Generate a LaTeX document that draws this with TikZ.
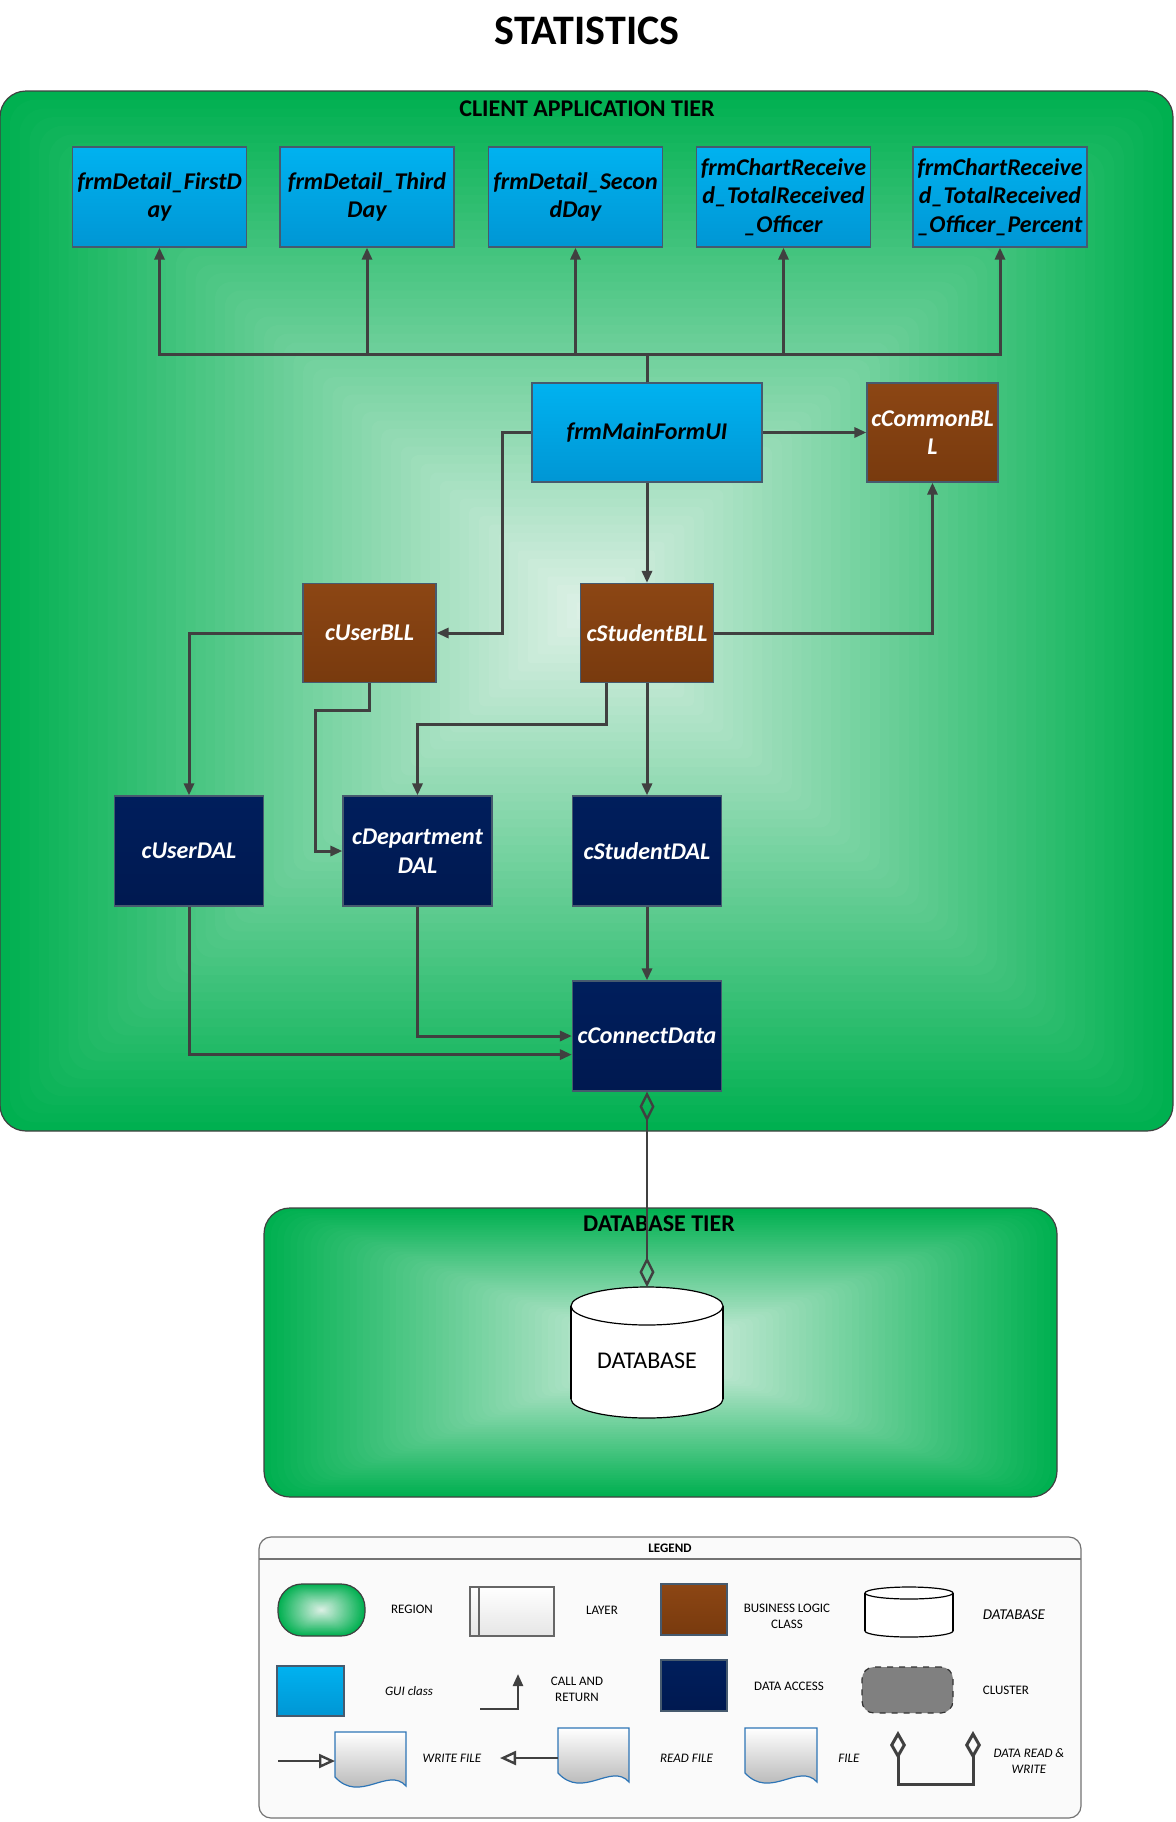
\documentclass[tikz,border=0pt]{standalone}
\usepackage{fontspec}
\setmainfont{Carlito}
\usetikzlibrary{arrows.meta,calc,positioning}

\definecolor{tiergreen}{RGB}{0,176,80}
\definecolor{tierlight}{RGB}{224,241,232}
\definecolor{guitop}{RGB}{0,178,240}
\definecolor{guibot}{RGB}{0,150,212}
\definecolor{blltop}{RGB}{140,70,20}
\definecolor{bllbot}{RGB}{120,58,14}
\definecolor{daltop}{RGB}{0,30,92}
\definecolor{dalbot}{RGB}{0,25,80}
\definecolor{linegray}{RGB}{64,64,64}
\definecolor{boxedge}{RGB}{70,90,110}
\definecolor{docblue}{RGB}{46,117,182}

% region with a rectangular gradient: x1 y1 x2 y2 radius
\newcommand\tierfill[5]{%
  \foreach \i in {0,...,59}{
    \pgfmathsetmacro\tiers{1-\i/60}
    \pgfmathsetmacro\tierp{100-100*\i/60}
    \fill[tiergreen!\tierp!tierlight, rounded corners={#5*0.5pt*\tiers}]
      ({(#1+#3)/2-(#3-#1)/2*\tiers},{(#2+#4)/2-(#4-#2)/2*\tiers}) rectangle
      ({(#1+#3)/2+(#3-#1)/2*\tiers},{(#2+#4)/2+(#4-#2)/2*\tiers});
  }
  \draw[black!75, line width=0.6pt, rounded corners={#5*0.5pt}] (#1,#2) rectangle (#3,#4);}
% file symbol: x1 y1 x2 y2
\newcommand\docshape[4]{%
  \shade[top color=white, bottom color=black!35, draw=docblue, line width=0.6pt]
    (#1,#2) -- (#3,#2) -- (#3,{#4-6})
    .. controls ({#3-0.25*(#3-#1)},{#4-26}) and ({#1+0.35*(#3-#1)},{#4+12}) .. (#1,{#4-15}) -- cycle;}
% database drum: cx top bottom rx ry
\newcommand\dbshape[5]{%
  \filldraw[fill=white, draw=black, line width=0.6pt] (#1,{#3-#5}) ellipse [x radius=#4, y radius=#5];
  \fill[white] ({#1-#4},{#2+#5}) rectangle ({#1+#4},{#3-#5});
  \draw[line width=0.6pt] ({#1-#4},{#2+#5}) -- ({#1-#4},{#3-#5}) ({#1+#4},{#2+#5}) -- ({#1+#4},{#3-#5});
  \filldraw[fill=white, draw=black, line width=0.6pt] (#1,{#2+#5}) ellipse [x radius=#4, y radius=#5];}

\begin{document}
\begin{tikzpicture}[
  x=0.5pt, y=-0.5pt,
  box/.style={draw=boxedge, line width=0.6pt, inner sep=0pt, align=center,
    font=\fontsize{12}{14.3}\selectfont\bfseries\itshape},
  gui/.style={box, top color=guitop, bottom color=guibot, text=black},
  bll/.style={box, top color=blltop, bottom color=bllbot, text=white},
  dal/.style={box, top color=daltop, bottom color=dalbot, text=white},
  detail/.style={gui, minimum width=87pt, minimum height=50pt},
  logic/.style={bll, minimum width=66.5pt, minimum height=49.5pt},
  access/.style={dal, minimum width=74.5pt, minimum height=55pt},
  tiertext/.style={font=\fontsize{12}{14}\selectfont\bfseries},
  legtext/.style={font=\fontsize{6.5}{8}\selectfont, align=center},
  conn/.style={draw=linegray, line width=1.5pt, -{Triangle[length=6pt,width=5pt]}},
  dbconn/.style={draw=linegray, line width=1.2pt,
    {Diamond[open,length=15pt,width=7.5pt]}-{Diamond[open,length=15pt,width=7.5pt]}}
]
\useasboundingbox (0,0) rectangle (1175,1822);

% regions
\tierfill{0}{91}{1173}{1131}{26}
\tierfill{264}{1208}{1057}{1497}{26}

\node[font=\fontsize{21}{25}\selectfont\bfseries] (title) at (587,31) {STATISTICS};
\node[tiertext] (clienttier) at (587,109) {CLIENT APPLICATION TIER};
\node[tiertext] (dbtier) at (659,1224) {DATABASE TIER};

% GUI layer
\node[detail] (firstday) at (159.5,197) {frmDetail\_FirstD\\ay};
\node[detail] (thirdday) at (367,197) {frmDetail\_Third\\Day};
\node[detail] (secondday) at (575.5,197) {frmDetail\_Secon\\dDay};
\node[detail] (chartofficer) at (783.5,197) {frmChartReceive\\d\_TotalReceived\\\_Officer};
\node[detail] (chartpercent) at (1000,197) {frmChartReceive\\d\_TotalReceived\\\_Officer\_Percent};
\node[gui, minimum width=115pt, minimum height=49.5pt] (mainform) at (647,432.5) {frmMainFormUI};

% business logic
\node[logic, minimum width=65.5pt] (commonbll) at (932.5,432.5) {cCommonBL\\L};
\node[logic] (userbll) at (369.5,633) {cUserBLL};
\node[logic] (studentbll) at (647,633) {cStudentBLL};

% data access
\node[access] (userdal) at (189,851) {cUserDAL};
\node[access] (departmentdal) at (417.5,851) {cDepartment\\DAL};
\node[access] (studentdal) at (647,851) {cStudentDAL};
\node[access] (connectdata) at (647,1036) {cConnectData};

% calls
\foreach \n in {firstday,thirdday,secondday,chartofficer,chartpercent}
  \draw[conn] (mainform.north) -- ++(0,-28) -| (\n.south);
\draw[conn] (mainform) -- (commonbll);
\draw[conn] (mainform.west) -- ++(-29,0) |- (userbll.east);
\draw[conn] (mainform.south) -- (studentbll.north);
\draw[conn] (studentbll.east) -| (commonbll.south);
\draw[conn] (userbll.west) -| (userdal.north);
\draw[conn] (userbll.south) |- ++(-54,27) |- (departmentdal.west);
\draw[conn] ($(studentbll.south)+(-41,0)$) -- ++(0,41) -| (departmentdal.north);
\draw[conn] (studentbll) -- (studentdal);
\draw[conn] (studentdal) -- (connectdata);
\draw[conn] (departmentdal.south) |- (connectdata.west);
\draw[conn] (userdal.south) |- ($(connectdata.west)+(0,18.6)$);

% database
\dbshape{647}{1287}{1418}{76}{19}
\node[font=\fontsize{12}{14}\selectfont] (database) at (647,1361) {DATABASE};
\coordinate (dbtop) at (647,1287);
\draw[dbconn] (connectdata.south) -- (dbtop);

% legend
\filldraw[fill=black!2, draw=black!55, line width=0.6pt, rounded corners=6pt] (259,1537) rectangle (1081,1818);
\draw[black!55, line width=0.6pt] (259,1559) -- (1081,1559);
\node[legtext, font=\fontsize{6.5}{8}\selectfont\bfseries] (legend) at (670,1548) {LEGEND};

\tierfill{278}{1584}{365}{1636}{24}
\node[legtext] (legregion) at (412,1609) {REGION};
\shade[top color=white, bottom color=black!10, draw=black!60, line width=0.6pt] (470,1587) rectangle (554,1636);
\draw[black!60, line width=0.6pt] (479,1587) -- (479,1636);
\node[legtext] (leglayer) at (602,1610) {LAYER};
\node[bll, minimum width=33pt, minimum height=25.5pt] (legbll) at (694,1609.5) {};
\node[legtext] (legbllt) at (787,1616.5) {BUSINESS LOGIC\\CLASS};
\dbshape{909}{1587}{1637}{44}{6}
\node[legtext, font=\fontsize{7.5}{9}\selectfont\itshape] (legdb) at (1014,1615) {DATABASE};

\node[gui, minimum width=33.5pt, minimum height=25pt] (leggui) at (310.5,1691) {};
\node[legtext, font=\fontsize{6.5}{8}\selectfont\itshape] (legguit) at (409,1691) {GUI class};
\coordinate (callfrom) at (480,1709);
\coordinate (callto) at (518,1674);
\draw[conn, line width=1.2pt] (callfrom) -| (callto);
\node[legtext] (legcall) at (577,1689) {CALL AND\\RETURN};
\node[dal, minimum width=33pt, minimum height=25.5pt] (legdal) at (694,1685.5) {};
\node[legtext] (legdalt) at (789,1686) {DATA ACCESS};
\node[draw=black!80, dashed, fill=black!50, line width=0.6pt, rounded corners=6pt,
  minimum width=45.5pt, minimum height=23pt] (legcluster) at (907.5,1690) {};
\node[legtext] (legclustert) at (1006,1690) {CLUSTER};

\docshape{335}{1732}{406}{1792}
\coordinate (writefrom) at (278,1761);
\coordinate (writeto) at (335,1761);
\draw[draw=linegray, line width=1.2pt, -{Triangle[open,length=8pt,width=7pt]}] (writefrom) -- (writeto);
\node[legtext, font=\fontsize{6.5}{8}\selectfont\itshape] (legwrite) at (452,1758) {WRITE FILE};
\docshape{558}{1728}{629}{1788}
\coordinate (readfrom) at (558,1758);
\coordinate (readto) at (500,1758);
\draw[draw=linegray, line width=1.2pt, -{Triangle[open,length=8pt,width=7pt]}] (readfrom) -- (readto);
\node[legtext, font=\fontsize{6.5}{8}\selectfont\itshape] (legread) at (686.5,1758) {READ FILE};
\docshape{745}{1728}{817}{1788}
\node[legtext, font=\fontsize{6.5}{8}\selectfont\itshape] (legfile) at (849,1758) {FILE};
\coordinate (rwleft) at (898,1731);
\coordinate (rwright) at (973,1731);
\draw[draw=linegray, line width=1.5pt, {Diamond[open,length=14pt,width=8pt]}-{Diamond[open,length=14pt,width=8pt]}]
  (rwleft) -- ++(0,53) -| (rwright);
\node[legtext, font=\fontsize{6.5}{8}\selectfont\itshape] (legrw) at (1029,1761) {DATA READ \&\\WRITE};
\end{tikzpicture}
\end{document}
